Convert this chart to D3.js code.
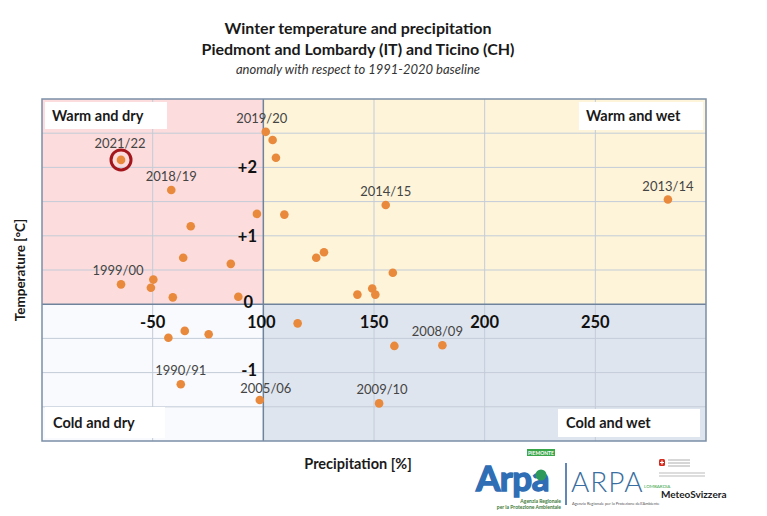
<!DOCTYPE html>
<html>
<head>
<meta charset="utf-8">
<script src="https://cdn.jsdelivr.net/npm/d3@7"></script>
<style>
  body { margin: 0; background: #fff; }
  svg { display: block; font-family: Lato, "Open Sans", sans-serif; }
</style>
</head>
<body>
<div id="chart"></div>
<script>
// winter seasons, precipitation (% of normal) and temperature anomaly (°C)
const seasonLabels = [
  "2021/22", "2018/19", "", "", "", "", "", "", "1999/00", "", "",
  "2019/20", "", "", "", "2014/15", "2013/14", "", "", "", "", "", "",
  "", "", "", "1990/91", "2005/06", "", "", "2008/09", "2009/10"
];
const precipValues = [
  35.7, 58.4, 97.1, 67.2, 63.8, 85.3, 50.3, 49.2, 35.7, 59.1, 88.7,
  101.1, 104.2, 105.7, 109.5, 155.3, 282.8, 123.9, 127.4, 158.5, 142.5, 149.2, 150.6,
  57.1, 64.5, 75.3, 62.7, 98.4, 115.5, 159.2, 180.9, 152.3
];
const tempValues = [
  2.11, 1.67, 1.32, 1.14, 0.68, 0.59, 0.36, 0.24, 0.29, 0.10, 0.11,
  2.52, 2.40, 2.14, 1.31, 1.45, 1.53, 0.68, 0.76, 0.46, 0.14, 0.23, 0.14,
  -0.49, -0.39, -0.44, -1.17, -1.40, -0.28, -0.61, -0.60, -1.45
];
const highlighted = "2021/22";

const xTicks = [50, 100, 150, 200, 250];
const xTickLabels = ["-50", "100", "150", "200", "250"];
const yTicks = [2, 1, 0, -1];
const yTickLabels = ["+2", "+1", "0", "-1"];
const quadrantNames = ["Warm and dry", "Warm and wet", "Cold and dry", "Cold and wet"];

const W = 767, H = 516;
const plot = { left: 42, right: 706, top: 99, bottom: 441 };

const svg = d3.select("#chart").append("svg")
  .attr("width", W)
  .attr("height", H);

const x = d3.scaleLinear().domain([0, 300]).range([plot.left, plot.right]);
const y = d3.scaleLinear().domain([-2, 3]).range([plot.bottom, plot.top]);

// titles
const titles = svg.append("g").attr("text-anchor", "middle");
titles.append("text").attr("x", 358).attr("y", 34)
  .attr("font-size", 16).attr("font-weight", "bold").attr("fill", "#1a1a1a")
  .text("Winter temperature and precipitation");
titles.append("text").attr("x", 358).attr("y", 55)
  .attr("font-size", 16).attr("font-weight", "bold").attr("fill", "#1a1a1a")
  .text("Piedmont and Lombardy (IT) and Ticino (CH)");
titles.append("text").attr("x", 358).attr("y", 74)
  .attr("font-size", 13).attr("font-style", "italic").attr("fill", "#333")
  .text("anomaly with respect to 1991-2020 baseline");

// quadrant backgrounds
const quads = [
  { x0: 0, x1: 100, y0: 0, y1: 3, fill: "#fcdcdc" },
  { x0: 100, x1: 300, y0: 0, y1: 3, fill: "#fef4d9" },
  { x0: 0, x1: 100, y0: -2, y1: 0, fill: "#f8fafd" },
  { x0: 100, x1: 300, y0: -2, y1: 0, fill: "#dfe5ee" }
];
svg.append("g").selectAll("rect")
  .data(quads)
  .enter()
  .append("rect")
  .attr("x", d => x(d.x0))
  .attr("y", d => y(d.y1))
  .attr("width", d => x(d.x1) - x(d.x0))
  .attr("height", d => y(d.y0) - y(d.y1))
  .attr("fill", d => d.fill);

// gridlines
const grid = svg.append("g").attr("stroke", "#c3ccd8").attr("stroke-width", 1);
grid.selectAll(".vgrid")
  .data(x.ticks(6).filter(t => t > 0 && t < 300 && t !== 100))
  .enter().append("line")
  .attr("x1", d => x(d)).attr("x2", d => x(d))
  .attr("y1", plot.top).attr("y2", plot.bottom);
grid.selectAll(".hgrid")
  .data(y.ticks(10).filter(t => t > -2 && t < 3 && t !== 0))
  .enter().append("line")
  .attr("x1", plot.left).attr("x2", plot.right)
  .attr("y1", d => y(d)).attr("y2", d => y(d));

// dividing axes
svg.append("line")
  .attr("x1", x(100)).attr("x2", x(100))
  .attr("y1", plot.top).attr("y2", plot.bottom)
  .attr("stroke", "#6f849c").attr("stroke-width", 1.5);
svg.append("line")
  .attr("x1", plot.left).attr("x2", plot.right)
  .attr("y1", y(0)).attr("y2", y(0))
  .attr("stroke", "#6f849c").attr("stroke-width", 1.5);

// frame
svg.append("rect")
  .attr("x", plot.left).attr("y", plot.top)
  .attr("width", plot.right - plot.left).attr("height", plot.bottom - plot.top)
  .attr("fill", "none").attr("stroke", "#7b8ea6").attr("stroke-width", 1.5);

// quadrant name boxes
const boxes = [
  { x: 45, y: 102, w: 122, h: 27, tx: 52 },
  { x: 579, y: 102, w: 124, h: 28, tx: 586 },
  { x: 45, y: 407, w: 120, h: 31, tx: 53 },
  { x: 558, y: 409, w: 142, h: 28, tx: 566 }
];
const qg = svg.append("g");
qg.selectAll("rect")
  .data(boxes)
  .enter().append("rect")
  .attr("x", d => d.x).attr("y", d => d.y)
  .attr("width", d => d.w).attr("height", d => d.h)
  .attr("fill", "#fff");
qg.selectAll("text")
  .data(boxes)
  .enter().append("text")
  .attr("x", d => d.tx)
  .attr("y", d => d.y + d.h / 2 + 5)
  .attr("font-size", 14.5).attr("font-weight", "bold").attr("fill", "#1a1a1a")
  .text((d, i) => quadrantNames[i]);

// tick labels
svg.append("g").selectAll("text")
  .data(xTicks)
  .enter().append("text")
  .attr("x", (d, i) => x(d) - (i === 1 ? 2 : 0))
  .attr("y", 328)
  .attr("text-anchor", "middle")
  .attr("font-size", 16.5).attr("font-weight", "bold").attr("fill", "#111")
  .text((d, i) => xTickLabels[i]);
svg.append("g").selectAll("text")
  .data(yTicks)
  .enter().append("text")
  .attr("x", (d) => d === 0 ? 253 : 257)
  .attr("y", d => y(d) + (d === 0 ? 4 : d < 0 ? 3 : 6))
  .attr("text-anchor", "end")
  .attr("font-size", 16.5).attr("font-weight", "bold").attr("fill", "#111")
  .text((d, i) => yTickLabels[i]);

// axis titles
svg.append("text")
  .attr("transform", "translate(25,270) rotate(-90)")
  .attr("text-anchor", "middle")
  .attr("font-size", 13.5).attr("font-weight", "bold").attr("fill", "#1a1a1a")
  .text("Temperature [°C]");
svg.append("text")
  .attr("x", 358).attr("y", 469)
  .attr("text-anchor", "middle")
  .attr("font-size", 14.5).attr("font-weight", "bold").attr("fill", "#1a1a1a")
  .text("Precipitation [%]");

// points
const points = precipValues.map((p, i) => ({ p: p, t: tempValues[i], label: seasonLabels[i] }));

svg.append("g").selectAll("circle")
  .data(points)
  .enter().append("circle")
  .attr("cx", d => x(d.p))
  .attr("cy", d => y(d.t))
  .attr("r", 4.3)
  .attr("fill", "#e8893c");

const hl = points.find(d => d.label === highlighted);
svg.append("circle")
  .attr("cx", x(hl.p)).attr("cy", y(hl.t))
  .attr("r", 10)
  .attr("fill", "none").attr("stroke", "#a3171c").attr("stroke-width", 3);

// point labels
const labelShift = { "2019/20": -4, "2005/06": 6, "2008/09": -5, "2009/10": 3, "2021/22": -1, "1999/00": -3 };
svg.append("g").selectAll("text")
  .data(points.filter(d => d.label))
  .enter().append("text")
  .attr("x", d => x(d.p) + (labelShift[d.label] || 0))
  .attr("y", d => y(d.t) - (d.label === "2021/22" ? 12 : d.label === "2005/06" ? 7 : 9))
  .attr("text-anchor", "middle")
  .attr("font-size", 13).attr("fill", "#444")
  .text(d => d.label);

// logos (simplified)
const logo = svg.append("g");
logo.append("rect").attr("x", 527).attr("y", 449).attr("width", 28).attr("height", 7).attr("fill", "#3aa64a");
logo.append("text").attr("x", 541).attr("y", 454.5).attr("text-anchor", "middle")
  .attr("font-size", 5).attr("fill", "#fff").attr("font-weight", "bold").text("PIEMONTE");
logo.append("text").attr("x", 476).attr("y", 491)
  .attr("font-size", 35).attr("font-weight", "bold").attr("fill", "#2f6db4")
  .attr("stroke", "#2f6db4").attr("stroke-width", 1.4)
  .attr("letter-spacing", -0.5).text("Arpa");
logo.append("circle").attr("cx", 541).attr("cy", 475).attr("r", 5.5).attr("fill", "#2b9a5a");
logo.append("text").attr("x", 561).attr("y", 503).attr("text-anchor", "end")
  .attr("font-size", 5).attr("font-weight", "bold").attr("fill", "#3d7a3a").text("Agenzia Regionale");
logo.append("text").attr("x", 561).attr("y", 509).attr("text-anchor", "end")
  .attr("font-size", 5).attr("font-weight", "bold").attr("fill", "#3d7a3a").text("per la Protezione Ambientale");
logo.append("line").attr("x1", 566).attr("x2", 566).attr("y1", 463).attr("y2", 505)
  .attr("stroke", "#2f5f9c").attr("stroke-width", 1.5);
logo.append("text").attr("x", 571).attr("y", 492)
  .attr("font-size", 28).attr("font-weight", 300).attr("fill", "#3a6ea0")
  .attr("letter-spacing", 1).text("ARPA");
logo.append("text").attr("x", 644).attr("y", 488)
  .attr("font-size", 4.5).attr("fill", "#3aa64a").text("LOMBARDIA");
logo.append("text").attr("x", 572).attr("y", 505)
  .attr("font-size", 4).attr("fill", "#555").text("Agenzia Regionale per la Protezione dell'Ambiente");
logo.append("rect").attr("x", 659).attr("y", 459).attr("width", 6).attr("height", 7).attr("rx", 1.5).attr("fill", "#d52b1e");
logo.append("path").attr("d", "M662 460.5v4M660 462.5h4").attr("stroke", "#fff").attr("stroke-width", 1.2);
[460, 463, 466].forEach(v => logo.append("line").attr("x1", 668).attr("x2", 690).attr("y1", v).attr("y2", v)
  .attr("stroke", "#999").attr("stroke-width", 0.8));
[473, 476].forEach(v => logo.append("line").attr("x1", 659).attr("x2", 705).attr("y1", v).attr("y2", v)
  .attr("stroke", "#aaa").attr("stroke-width", 0.8));
logo.append("text").attr("x", 661).attr("y", 498)
  .attr("font-size", 10).attr("font-weight", "bold").attr("fill", "#222").text("MeteoSvizzera");
</script>
</body>
</html>
